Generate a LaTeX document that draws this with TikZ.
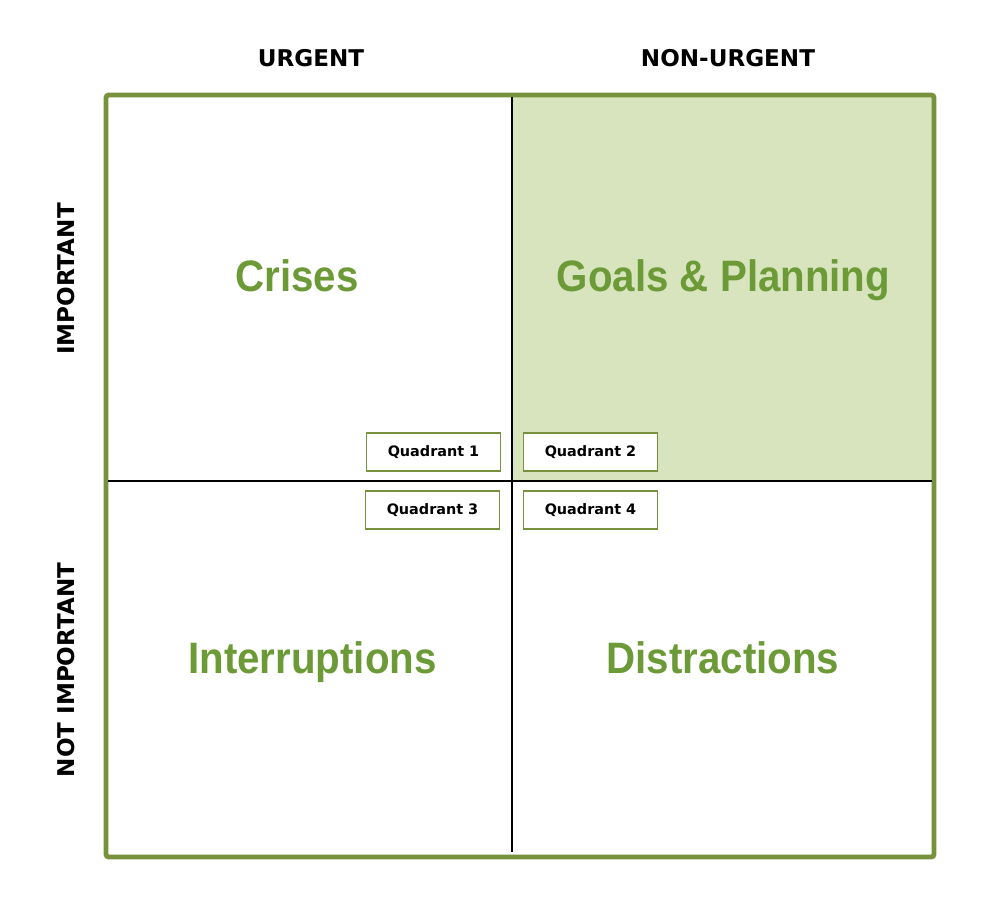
\documentclass[tikz,border=0pt]{standalone}
\usepackage{fontspec}
\setmainfont{Liberation Sans}
\newfontfamily\labelfont{DejaVu Sans}
\usepackage{xcolor}
\definecolor{framegreen}{HTML}{76923C}
\definecolor{textgreen}{HTML}{6B9A37}
\definecolor{fillgreen}{HTML}{D7E4BD}
\usetikzlibrary{positioning}

\begin{document}
\begin{tikzpicture}[x=0.75pt,y=-0.75pt,
  frame/.style={draw=framegreen,line width=3.6pt,rounded corners=2pt},
  divider/.style={draw=black,line width=1.1pt},
  title/.style={font=\fontsize{33}{33}\selectfont\bfseries,text=textgreen,xscale=0.915,transform shape,inner sep=0pt,anchor=base},
  axislab/.style={font=\labelfont\fontsize{17.3}{17.3}\selectfont\bfseries,text=black,inner sep=0pt},
  tag/.style={draw=framegreen,line width=0.9pt,fill=white,minimum width=100pt,minimum height=28.5pt,inner sep=0pt,font=\labelfont\fontsize{10.8}{10.8}\selectfont\bfseries}]
\useasboundingbox (0,0) rectangle (1000,910);
% corners and centre of the matrix
\coordinate (nw) at (106,95);
\coordinate (se) at (934,857);
\coordinate (ctr) at (512,481);
\fill[fillgreen] (ctr) rectangle (932,97);
\draw[frame] (nw) rectangle (se);
\draw[divider] (512,97) -- (512,852);
\draw[divider] (108,481) -- (932,481);
% column and row headings
\node[axislab] (urgent) at (311,58) {URGENT};
\node[axislab] (nonurgent) at (728,58) {NON-URGENT};
\node[axislab,rotate=90] (important) at (66,279) {IMPORTANT};
\node[axislab,rotate=90] (notimportant) at (66,670) {NOT IMPORTANT};
% quadrant names
\node[title] (crises) at (297,291) {Crises};
\node[title] (goals) at (723.5,291) {Goals \& Planning};
\node[title] (interrupt) at (312.5,673) {Interruptions};
\node[title] (distract) at (723,673) {Distractions};
% quadrant tags
\node[tag] (q1) at (433.5,452) {Quadrant 1};
\node[tag] (q2) at (590.5,452) {Quadrant 2};
\node[tag] (q3) at (432.5,510) {Quadrant 3};
\node[tag] (q4) at (590.5,510) {Quadrant 4};
\end{tikzpicture}
\end{document}
